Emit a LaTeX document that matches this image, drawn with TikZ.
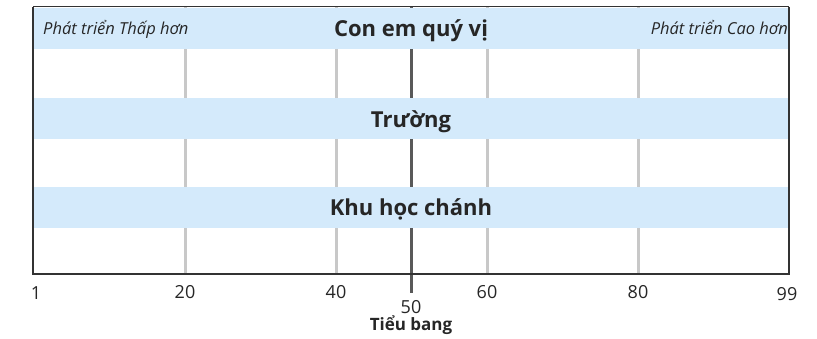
\documentclass[tikz,border=0pt]{standalone}
\usepackage{fontspec}
\setmainfont{Open Sans}
\usepackage{tikz}
\usetikzlibrary{calc,positioning}
\definecolor{bandblue}{HTML}{D4EAFB}
\definecolor{gridgray}{HTML}{C8C8C8}
\definecolor{midgray}{HTML}{595959}
\definecolor{framegray}{HTML}{333333}
\definecolor{textgray}{HTML}{262626}

\begin{document}
\begin{tikzpicture}[x=1pt,y=1pt,
  band/.style={fill=bandblue,draw=none},
  title/.style={anchor=base,font=\bfseries\fontsize{22}{24}\selectfont,text=textgray},
  side/.style={anchor=base west,inner sep=0pt,font=\itshape\fontsize{16.5}{18}\selectfont,text=textgray},
  ticklabel/.style={anchor=base,font=\fontsize{18}{22}\selectfont,text=textgray},
  gridline/.style={draw=gridgray,line width=3pt},
  median/.style={draw=midgray,line width=3pt},
  frame/.style={draw=framegray,line width=2pt}]
\useasboundingbox (0,0) rectangle (817,338);
% grid lines
\foreach \v/\x in {20/185,40/336,60/487,80/638}{
  \coordinate (top\v) at (\x,331);
  \coordinate (bot\v) at (\x,64);
  \path[gridline] (top\v) -- (bot\v);
}
\coordinate (top50) at (411,331);
\coordinate (bot50) at (411,45);
\path[median] (top50) -- (bot50);
% bands
\path[band] (33,330) rectangle (789,289);
\path[band] (33,240) rectangle (789,199);
\path[band] (33,151) rectangle (789,110);
\node[title] (child) at (411,301) {Con em quý vị};
\node[title] (school) at (411,210) {Trường};
\node[title] (district) at (411,123) {Khu học chánh};
\node[side] (lower) at (43,303) {Phát triển Thấp hơn};
\node[side,anchor=base east] (higher) at (788,303) {Phát triển Cao hơn};
% frame
\coordinate (tl) at (33,331);
\coordinate (bl) at (33,64);
\coordinate (br) at (789,64);
\coordinate (tr) at (789,331);
\path[frame] (tl) -- (bl) -- (br) -- (tr);
\path[draw=framegray,line width=1pt] (tl) -- (tr);
% axis labels
\node[ticklabel] (t1) at (36,39) {1};
\foreach \v/\x in {20/185,40/336,60/487,80/638}{
  \node[ticklabel] (t\v) at (\x,40) {\v};
}
\node[ticklabel] (t99) at (787,38) {99};
\node[ticklabel] (t50) at (411,25) {50};
\node[anchor=base,font=\bfseries\fontsize{17}{18}\selectfont,text=textgray] (state) at (411,8) {Tiểu bang};
\end{tikzpicture}
\end{document}
